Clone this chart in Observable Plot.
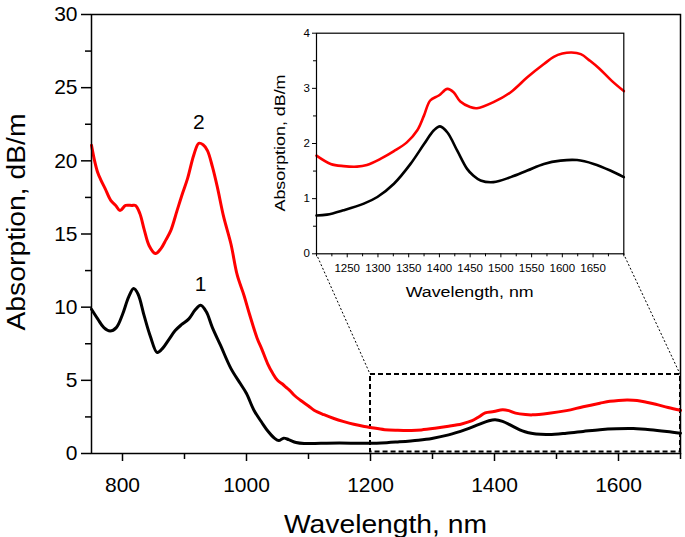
<!DOCTYPE html>
<html><head><meta charset="utf-8">
<script src="https://cdn.jsdelivr.net/npm/d3@7"></script>
<script src="https://cdn.jsdelivr.net/npm/@observablehq/plot@0.6"></script>
<style>
html,body{margin:0;padding:0;background:#fff;}
#wrap{position:relative;width:685px;height:537px;font-family:"Liberation Sans",Arial,sans-serif;}
#inset{position:absolute;left:265px;top:14px;}
svg{overflow:visible;display:block}
</style></head><body><div id="wrap"><div id="main"></div><div id="inset"></div></div>
<script>
// Curve 1 (black)
const wl1 = [750,760,770,780,790,800,810,818,825,835,845,856,865,875,885,895,907,917,926,935,945,958,975,990,1000,1012,1025,1035,1045,1052,1060,1068,1080,1093,1120,1150,1180,1200,1217,1244,1277,1299,1326,1353,1375,1391,1401,1413,1429,1445,1455,1467,1488,1516,1543,1570,1597,1624,1651,1678,1700];
const abs1 = [9.86,9.2,8.6,8.37,8.6,9.5,10.7,11.27,10.9,9.4,8.0,6.9,7.2,7.8,8.4,8.8,9.2,9.8,10.13,9.7,8.6,7.4,5.8,4.78,4.1,2.96,2.1,1.5,1.05,0.88,1.05,0.95,0.75,0.68,0.7,0.72,0.7,0.695,0.71,0.79,0.91,1.03,1.27,1.63,1.99,2.24,2.31,2.2,1.87,1.54,1.42,1.33,1.30,1.39,1.51,1.63,1.69,1.70,1.63,1.51,1.39];
// Curve 2 (red)
const wl2 = [750,755,760,765,772,781,790,796,805,815,821,828,835,843,853,862,870,878,888,897,905,915,923,930,937,945,953,963,975,985,996,1005,1017,1025,1034,1042,1050,1058,1063,1070,1077,1087,1100,1109,1125,1141,1157,1173,1190,1200,1223,1244,1266,1282,1304,1326,1347,1364,1375,1385,1399,1413,1423,1434,1450,1461,1488,1516,1543,1570,1586,1600,1615,1630,1645,1660,1680,1700];
const abs2 = [21.06,20.0,19.2,18.7,18.1,17.3,16.9,16.6,16.95,16.95,16.95,16.4,15.3,14.2,13.66,14.0,14.6,15.25,16.6,17.8,18.8,20.4,21.2,21.1,20.7,19.6,18.2,16.2,14.3,12.2,10.8,9.5,7.9,7.1,6.15,5.5,5.0,4.75,4.55,4.3,3.98,3.64,3.25,2.96,2.65,2.39,2.18,2.0,1.85,1.78,1.63,1.59,1.58,1.61,1.72,1.86,2.02,2.24,2.51,2.78,2.87,2.99,2.93,2.76,2.66,2.64,2.75,2.93,3.2,3.44,3.57,3.63,3.65,3.62,3.5,3.36,3.14,2.95];

const seriesNames = ["1", "2"];
const seriesColors = ["#000000", "#ff0000"];

// Main axes ticks
const mainXTicks = [800, 1000, 1200, 1400, 1600];
const mainXMinor = [900, 1100, 1300, 1500, 1700];
const mainYTicks = [0, 5, 10, 15, 20, 25, 30];
const mainYMinor = [2.5, 7.5, 12.5, 17.5, 22.5, 27.5];
// Inset ticks
const insetXTicks = [1250, 1300, 1350, 1400, 1450, 1500, 1550, 1600, 1650];
const insetXMinor = [1200, 1225, 1275, 1325, 1375, 1425, 1475, 1525, 1575, 1625, 1675, 1700];
const insetYTicks = [0, 1, 2, 3, 4];
const insetYMinor = [0.5, 1.5, 2.5, 3.5];
// Zoomed region
const zoomX = [1200, 1700];
const zoomY = [0.1, 5.4];

const xTitle = "Wavelength, nm";
const yTitle = "Absorption, dB/m";

const font = "'Liberation Sans', Arial, Helvetica, sans-serif";
const fmt = d => String(d);
const d1 = wl1.map((w, i) => ({w, a: abs1[i], s: seriesNames[0]}));
const d2 = wl2.map((w, i) => ({w, a: abs2[i], s: seriesNames[1]}));
const all = d1.concat(d2);
const peak = (d) => d.filter(p => p.w > 880 && p.w < 960).reduce((m, p) => p.a > m.a ? p : m);
const labels = [peak(d1), peak(d2)];
const colorScale = {domain: seriesNames, range: seriesColors};

const M = {left: 91, right: 5, top: 14, bottom: 84};
const main = Plot.plot({
  width: 685, height: 537,
  marginLeft: M.left, marginRight: M.right, marginTop: M.top, marginBottom: M.bottom,
  style: {fontFamily: font, background: "white", color: "black"},
  x: {domain: [750, 1700]},
  y: {domain: [0, 30]},
  color: colorScale,
  marks: [
    Plot.rect([{x1: zoomX[0], x2: zoomX[1], y1: zoomY[0], y2: zoomY[1]}], {x1: "x1", x2: "x2", y1: "y1", y2: "y2", fill: "none", stroke: "black", strokeWidth: 2, strokeDasharray: "5,3"}),
    Plot.line(all, {x: "w", y: "a", z: "s", stroke: "s", strokeWidth: 3, curve: "catmull-rom"}),
    Plot.text(labels, {x: "w", y: "a", text: "s", dy: -14, lineAnchor: "bottom", fontSize: 21, fill: "black"}),
    Plot.frame({stroke: "black", strokeWidth: 1.5}),
    Plot.axisY({ticks: mainYTicks, tickFormat: fmt, tickSize: 10, tickPadding: 4, fontSize: 21, label: null, strokeWidth: 1.5}),
    Plot.axisY({ticks: mainYMinor, tickSize: 6, fill: "none", label: null, strokeWidth: 1.5}),
    Plot.axisX({ticks: mainXTicks, tickFormat: fmt, tickSize: 8, tickPadding: 16, fontSize: 21, label: null, strokeWidth: 1.5}),
    Plot.axisX({ticks: mainXMinor, tickSize: 6, fill: "none", label: null, strokeWidth: 1.5})
  ]
});
document.getElementById("main").appendChild(main);

const msvg = d3.select(main);
msvg.append("text").attr("x", (M.left + 685 - M.right) / 2).attr("y", 533)
  .attr("text-anchor", "middle").attr("font-size", 25).attr("fill", "black")
  .attr("textLength", 203).attr("lengthAdjust", "spacingAndGlyphs").text(xTitle);
msvg.append("text").attr("transform", "translate(24.5,222) rotate(-90)")
  .attr("text-anchor", "middle").attr("font-size", 26).attr("fill", "black")
  .attr("textLength", 217).attr("lengthAdjust", "spacingAndGlyphs").text(yTitle);

// Inset layout
const IL = 265, IT = 14, IW = 365, IH = 295;
const IM = {left: 51, right: 6.7, top: 18.7, bottom: 55.7};
const insetData = all.filter(p => p.w >= zoomX[0]);
const inset = Plot.plot({
  width: IW, height: IH,
  marginLeft: IM.left, marginRight: IM.right, marginTop: IM.top, marginBottom: IM.bottom,
  style: {fontFamily: font, background: "transparent", color: "black"},
  x: {domain: zoomX},
  y: {domain: [0, 4]},
  color: colorScale,
  marks: [
    Plot.line(insetData, {x: "w", y: "a", z: "s", stroke: "s", strokeWidth: 2.6, curve: "catmull-rom"}),
    Plot.frame({stroke: "black", strokeWidth: 1.2}),
    Plot.axisY({ticks: insetYTicks, tickFormat: fmt, tickSize: 4, tickPadding: 2.5, fontSize: 11.5, label: null, strokeWidth: 1}),
    Plot.axisY({ticks: insetYMinor, tickSize: 3, fill: "none", label: null, strokeWidth: 1}),
    Plot.axisX({ticks: insetXTicks, tickFormat: fmt, tickSize: 4, tickPadding: 6, fontSize: 11.5, label: null, strokeWidth: 1}),
    Plot.axisX({ticks: insetXMinor, tickSize: 3, fill: "none", label: null, strokeWidth: 1})
  ]
});
document.getElementById("inset").appendChild(inset);
const isvg = d3.select(inset);
isvg.append("text").attr("x", (IM.left + IW - IM.right) / 2).attr("y", 282.5)
  .attr("text-anchor", "middle").attr("font-size", 15.5).attr("fill", "black")
  .attr("textLength", 128).attr("lengthAdjust", "spacingAndGlyphs").text(xTitle);
isvg.append("text").attr("transform", "translate(19.6,129) rotate(-90)")
  .attr("text-anchor", "middle").attr("font-size", 15.5).attr("fill", "black")
  .attr("textLength", 137).attr("lengthAdjust", "spacingAndGlyphs").text(yTitle);

// Connector lines from inset corners to zoom box corners
const xs = main.scale("x"), ys = main.scale("y");
const bottomY = IT + IH - IM.bottom;
const conns = [
  [IL + IM.left, bottomY, xs.apply(zoomX[0]), ys.apply(zoomY[1])],
  [IL + IW - IM.right, bottomY, xs.apply(zoomX[1]), ys.apply(zoomY[1])]
];
msvg.selectAll("line.conn").data(conns).join("line").attr("class", "conn")
  .attr("x1", d => d[0]).attr("y1", d => d[1]).attr("x2", d => d[2]).attr("y2", d => d[3])
  .attr("stroke", "black").attr("stroke-width", 1).attr("stroke-dasharray", "2,2");
</script>
</body></html>
